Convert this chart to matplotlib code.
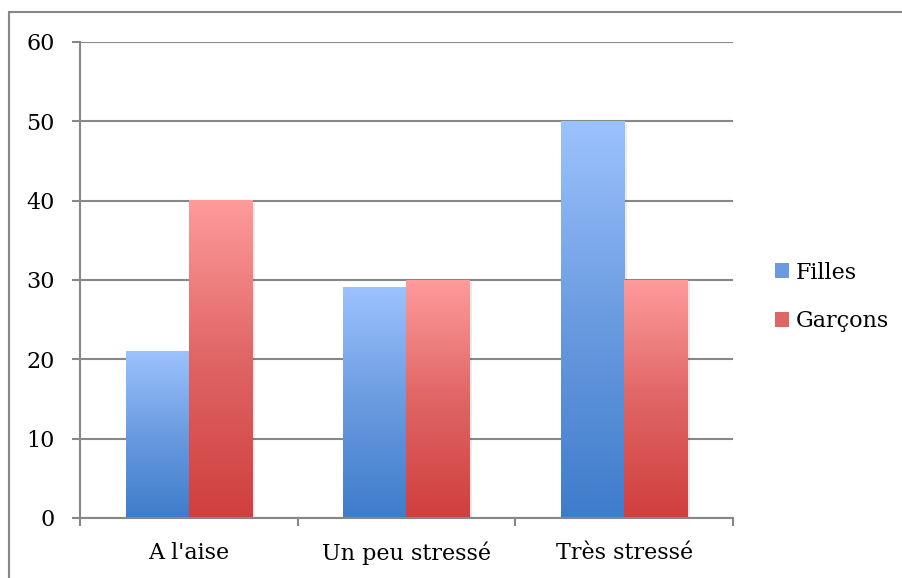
import numpy as np
import matplotlib
matplotlib.use('Agg')
import matplotlib.pyplot as plt
from matplotlib.colors import LinearSegmentedColormap
from matplotlib.patches import Rectangle, Patch

# données
categories = ["A l'aise", "Un peu stressé", "Très stressé"]
filles = [21, 29, 50]
garcons = [40, 30, 30]
series_names = ['Filles', 'Garçons']
yticks = [0, 10, 20, 30, 40, 50, 60]

plt.rcParams['font.family'] = ['DejaVu Serif']
grey = '#878787'

fig = plt.figure(figsize=(9.03, 5.78), dpi=100)
ax = fig.add_axes([80/903, 60/578, 653/903, 476/578])

x = np.arange(len(categories))
w = 0.29
b1 = ax.bar(x - w/2, filles, w, color='none', zorder=3)
b2 = ax.bar(x + w/2, garcons, w, color='none', zorder=3)

# dégradés verticaux dans chaque barre
cm_bleu = LinearSegmentedColormap.from_list('b', ['#3E7CCB', '#6A9BE0', '#9CC2FE'])
cm_rouge = LinearSegmentedColormap.from_list('r', ['#CF3F3E', '#E06565', '#FE9B9B'])
grad = np.linspace(0, 1, 256).reshape(-1, 1)
for bars, cm in [(b1, cm_bleu), (b2, cm_rouge)]:
    for p in bars:
        x0, y0, pw, ph = p.get_x(), p.get_y(), p.get_width(), p.get_height()
        # ombre légère
        ax.add_patch(Rectangle((x0 + 0.012, y0), pw, ph - 0.3, color='#000000',
                               alpha=0.08, zorder=2, lw=0))
        ax.imshow(grad, extent=[x0, x0 + pw, y0, y0 + ph], origin='lower',
                  cmap=cm, aspect='auto', zorder=3)

ax.set_xlim(-0.5, len(categories) - 0.5)
ax.set_ylim(0, 60)
ax.set_yticks(yticks)
ax.set_xticks(x)
ax.set_xticklabels(categories)
ax.set_xticks(np.arange(len(categories) + 1) - 0.5, minor=True)

ax.grid(axis='y', color=grey, lw=1.5, zorder=1)
for s in ['top', 'right']:
    ax.spines[s].set_visible(False)
for s in ['left', 'bottom']:
    ax.spines[s].set_color(grey)
    ax.spines[s].set_linewidth(1.5)
    ax.spines[s].set_zorder(4)

ax.tick_params(axis='y', length=6, width=1.5, color=grey, pad=12, labelsize=16)
ax.tick_params(axis='x', which='major', length=0, pad=17, labelsize=16)
ax.tick_params(axis='x', which='minor', length=6, width=1.5, color=grey)

handles = [Patch(facecolor='#6A9BE0'), Patch(facecolor='#E06565')]
fig.legend(handles, series_names, loc='center left', bbox_to_anchor=(766/903, 1 - 297/578),
           frameon=False, fontsize=16, handlelength=0.65, handleheight=0.65,
           handletextpad=0.3, labelspacing=1.2, borderaxespad=0)

# cadre du graphique
fig.patches.append(Rectangle((9/903, -0.1), 2, 1 - 12/578 + 0.1, transform=fig.transFigure,
                             fill=False, edgecolor=grey, lw=1.5))

fig.savefig('out.png', dpi=100)
